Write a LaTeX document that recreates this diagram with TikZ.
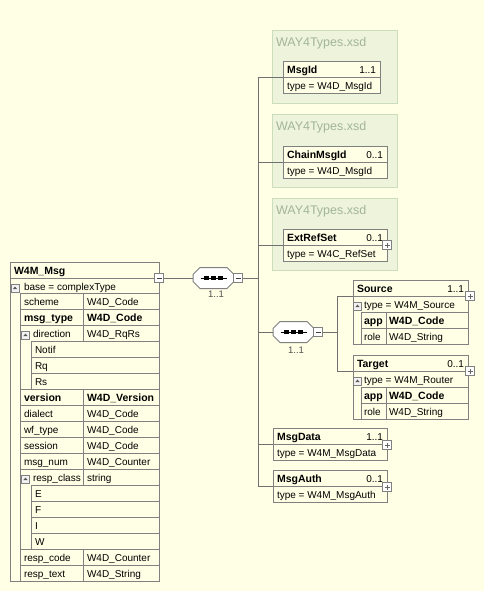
\documentclass[tikz,border=0pt]{standalone}
\usepackage{fontspec}
\setmainfont{Liberation Sans}
\definecolor{paper}{HTML}{FFFFE6}
\definecolor{rule}{HTML}{808080}
\definecolor{grpfill}{HTML}{EDF4DB}
\definecolor{grpedge}{HTML}{CCDDBB}
\definecolor{grptext}{HTML}{A3B597}
\definecolor{wirecol}{HTML}{707070}
\definecolor{cardcol}{HTML}{505050}

\begin{document}
\begin{tikzpicture}[x=1pt,y=-1pt,
  every node/.style={font=\fontsize{10}{12}\selectfont, inner sep=0pt, outer sep=0pt},
  txt/.style={anchor=base west},
  btxt/.style={anchor=base west, font=\fontsize{10.5}{12}\selectfont\bfseries},
  card/.style={anchor=base east},
  elbox/.style={draw=rule, fill=paper, anchor=north west, line width=1pt},
  groupbox/.style={draw=grpedge, fill=grpfill, anchor=north west, line width=1pt},
  grptitle/.style={anchor=base west, text=grptext, font=\fontsize{12.5}{14}\selectfont},
  cell/.style={draw=rule, line width=1pt},
  wire/.style={draw=wirecol, line width=1pt},
  minusbtn/.style={draw=rule, fill=white, line width=1pt, minimum size=9,
    path picture={\draw[black!75, line width=0.8pt]
      ([xshift=-2.5pt]path picture bounding box.center) -- ([xshift=2.5pt]path picture bounding box.center);}},
  plusbtn/.style={draw=rule, fill=white, line width=1pt, minimum size=9,
    path picture={\draw[black!60, line width=0.8pt]
      ([xshift=-2.5pt]path picture bounding box.center) -- ([xshift=2.5pt]path picture bounding box.center)
      ([yshift=-2.5pt]path picture bounding box.center) -- ([yshift=2.5pt]path picture bounding box.center);}},
  foldbtn/.style={draw=rule, fill=white!95!black, line width=0.8pt, minimum size=8,
    path picture={\fill[black!65]
      ([xshift=-2.2pt,yshift=-1.2pt]path picture bounding box.center) --
      ([xshift=2.2pt,yshift=-1.2pt]path picture bounding box.center) --
      ([yshift=1.4pt]path picture bounding box.center) -- cycle;}},
  seqbox/.style={minimum width=41, minimum height=21},
  cardlabel/.style={text=cardcol, font=\fontsize{9.5}{11}\selectfont}
]
% canvas
\fill[paper] (0,0) rectangle (484,591);
\useasboundingbox (0,0) rectangle (484,591);

% ---------- schema groups ----------
\node[groupbox, minimum width=125, minimum height=73] (grp1) at (272,31) {};
\node[groupbox, minimum width=125, minimum height=72] (grp2) at (272,115) {};
\node[groupbox, minimum width=125, minimum height=72] (grp3) at (272,198) {};
\node[grptitle] (grp1t) at (276,47) {WAY4Types.xsd};
\node[grptitle] (grp2t) at (276,131) {WAY4Types.xsd};
\node[grptitle] (grp3t) at (276,214) {WAY4Types.xsd};

% ---------- simple element boxes ----------
% MsgId
\node[elbox, minimum width=97, minimum height=32] (msgid) at (283,62) {};
\draw[cell] (283,78) -- (380,78);
\node[btxt] (msgidT) at (287,74) {MsgId};
\node[card] (msgidC) at (376,74) {1..1};
\node[txt] (msgidY) at (287,90) {type = W4D\_MsgId};
% ChainMsgId
\node[elbox, minimum width=104, minimum height=32] (chain) at (283,146) {};
\draw[cell] (283,162) -- (387,162);
\node[btxt] (chainT) at (287,158) {ChainMsgId};
\node[card] (chainC) at (383,158) {0..1};
\node[txt] (chainY) at (287,174) {type = W4D\_MsgId};
% ExtRefSet
\node[elbox, minimum width=104, minimum height=32] (extref) at (283,229) {};
\draw[cell] (283,245) -- (387,245);
\node[btxt] (extrefT) at (287,241) {ExtRefSet};
\node[card] (extrefC) at (383,241) {0..1};
\node[txt] (extrefY) at (287,257) {type = W4C\_RefSet};
\node[plusbtn] (extrefB) at (387,245) {};
% MsgData
\node[elbox, minimum width=114, minimum height=32] (msgdata) at (273,428) {};
\draw[cell] (273,444) -- (387,444);
\node[btxt] (msgdataT) at (277,440) {MsgData};
\node[card] (msgdataC) at (383,440) {1..1};
\node[txt] (msgdataY) at (277,456) {type = W4M\_MsgData};
\node[plusbtn] (msgdataB) at (387,445) {};
% MsgAuth
\node[elbox, minimum width=114, minimum height=32] (msgauth) at (273,470) {};
\draw[cell] (273,486) -- (387,486);
\node[btxt] (msgauthT) at (277,482) {MsgAuth};
\node[card] (msgauthC) at (383,482) {0..1};
\node[txt] (msgauthY) at (277,498) {type = W4M\_MsgAuth};
\node[plusbtn] (msgauthB) at (387,487) {};

% ---------- Source / Target ----------
\node[elbox, minimum width=115, minimum height=64] (source) at (353,280) {};
\draw[cell] (353,296) -- (468,296);
\node[cell, anchor=north west, minimum width=107, minimum height=32] (srcTab) at (361,312) {};
\draw[cell] (361,328) -- (468,328) (386,312) -- (386,344);
\node[btxt] (sourceT) at (357,292) {Source};
\node[card] (sourceC) at (464,292) {1..1};
\node[foldbtn] (sourceF) at (357.5,306) {};
\node[txt] (sourceY) at (364,308) {type = W4M\_Source};
\node[btxt] (srcApp) at (364,324) {app};
\node[btxt] (srcAppT) at (389,324) {W4D\_Code};
\node[txt] (srcRole) at (364,340) {role};
\node[txt] (srcRoleT) at (389,340) {W4D\_String};
\node[plusbtn] (sourceB) at (470,296) {};

\node[elbox, minimum width=115, minimum height=64] (target) at (353,355) {};
\draw[cell] (353,371) -- (468,371);
\node[cell, anchor=north west, minimum width=107, minimum height=32] (tgtTab) at (361,387) {};
\draw[cell] (361,403) -- (468,403) (386,387) -- (386,419);
\node[btxt] (targetT) at (357,367) {Target};
\node[card] (targetC) at (464,367) {0..1};
\node[foldbtn] (targetF) at (357.5,381) {};
\node[txt] (targetY) at (364,383) {type = W4M\_Router};
\node[btxt] (tgtApp) at (364,399) {app};
\node[btxt] (tgtAppT) at (389,399) {W4D\_Code};
\node[txt] (tgtRole) at (364,415) {role};
\node[txt] (tgtRoleT) at (389,415) {W4D\_String};
\node[plusbtn] (targetB) at (470,371) {};

% ---------- W4M_Msg complex type ----------
\node[elbox, minimum width=149, minimum height=319] (msg) at (10,262) {};
\draw[cell] (10,278) -- (159,278);
\node[btxt] (msgT) at (14,274) {W4M\_Msg};
\node[foldbtn] (baseF) at (15,288) {};
\node[txt] (baseY) at (24,290) {base = complexType};
\node[cell, anchor=north west, minimum width=139, minimum height=288] (attrs) at (20,293) {};
% row rules
\foreach \y in {309,325,389,405,421,437,453,469,549,565} \draw[cell] (20,\y) -- (159,\y);
\foreach \y in {341,357,373,485,501,517,533} \draw[cell] (31,\y) -- (159,\y);
\draw[cell] (31,341) -- (31,389) (31,485) -- (31,549);
\draw[cell] (83,293) -- (83,341) (83,389) -- (83,485) (83,549) -- (83,581);
% attribute names and types
\node[txt]  (aScheme)   at (24,305) {scheme};      \node[txt]  (tScheme)   at (87,305) {W4D\_Code};
\node[btxt] (aMsgType)  at (24,321) {msg\_type};   \node[btxt] (tMsgType)  at (87,321) {W4D\_Code};
\node[foldbtn] (dirF) at (25.5,335) {};
\node[txt]  (aDir)      at (33,337) {direction};   \node[txt]  (tDir)      at (87,337) {W4D\_RqRs};
\node[txt]  (eNotif)    at (35,353) {Notif};
\node[txt]  (eRq)       at (35,369) {Rq};
\node[txt]  (eRs)       at (35,385) {Rs};
\node[btxt] (aVersion)  at (24,401) {version};     \node[btxt] (tVersion)  at (87,401) {W4D\_Version};
\node[txt]  (aDialect)  at (24,417) {dialect};     \node[txt]  (tDialect)  at (87,417) {W4D\_Code};
\node[txt]  (aWf)       at (24,433) {wf\_type};    \node[txt]  (tWf)       at (87,433) {W4D\_Code};
\node[txt]  (aSession)  at (24,449) {session};     \node[txt]  (tSession)  at (87,449) {W4D\_Code};
\node[txt]  (aNum)      at (24,465) {msg\_num};    \node[txt]  (tNum)      at (87,465) {W4D\_Counter};
\node[foldbtn] (rcF) at (25.5,479) {};
\node[txt]  (aClass)    at (33,481) {resp\_class}; \node[txt]  (tClass)    at (87,481) {string};
\node[txt]  (eE)        at (35,497) {E};
\node[txt]  (eF)        at (35,513) {F};
\node[txt]  (eI)        at (35,529) {I};
\node[txt]  (eW)        at (35,545) {W};
\node[txt]  (aCode)     at (24,561) {resp\_code};  \node[txt]  (tCode)     at (87,561) {W4D\_Counter};
\node[txt]  (aText)     at (24,577) {resp\_text};  \node[txt]  (tText)     at (87,577) {W4D\_String};
\node[minusbtn] (msgB) at (159,278) {};

% ---------- sequence compositors (octagon with dotted-line symbol) ----------
\node[seqbox] (seq1) at (213.5,278) {};
\node[seqbox] (seq2) at (293.5,332) {};
\foreach \s in {seq1,seq2}{
  \filldraw[draw=rule, fill=white, line width=1pt]
    ([xshift=-20.5pt,yshift=3.5pt]\s.center) -- ([xshift=-13.5pt,yshift=10.5pt]\s.center) --
    ([xshift=13.5pt,yshift=10.5pt]\s.center) -- ([xshift=20.5pt,yshift=3.5pt]\s.center) --
    ([xshift=20.5pt,yshift=-3.5pt]\s.center) -- ([xshift=13.5pt,yshift=-10.5pt]\s.center) --
    ([xshift=-13.5pt,yshift=-10.5pt]\s.center) -- ([xshift=-20.5pt,yshift=-3.5pt]\s.center) -- cycle;
  \draw[black, line width=1pt] ([xshift=-13pt]\s.center) -- ([xshift=13pt]\s.center);
  \foreach \dx in {-7,0,7}
    \fill[black] ([xshift=\dx pt-2.5pt, yshift=-1.8pt]\s.center) rectangle ([xshift=\dx pt+2.5pt, yshift=1.8pt]\s.center);
}
\node[minusbtn] (seq1B) at (238,278) {};
\node[cardlabel] (seq1L) at (216,294) {1..1};
\node[minusbtn] (seq2B) at (318,332) {};
\node[cardlabel] (seq2L) at (296,350) {1..1};

% ---------- connectors ----------
\coordinate (bus) at (258,0);
\coordinate (bus2) at (337,0);
\coordinate (srcPort) at (353,296);
\coordinate (tgtPort) at (353,371);
\draw[wire] (msgB.east) -- (seq1.west);
\draw[wire] (seq1B.east) -- (seq1B.east -| bus);
\draw[wire] (msgid.west -| bus) -- (msgauth.west -| bus);
\draw[wire] (msgid.west -| bus) -- (msgid.west);
\draw[wire] (chain.west -| bus) -- (chain.west);
\draw[wire] (extref.west -| bus) -- (extref.west);
\draw[wire] (seq2.west -| bus) -- (seq2.west);
\draw[wire] (msgdata.west -| bus) -- (msgdata.west);
\draw[wire] (msgauth.west -| bus) -- (msgauth.west);
\draw[wire] (seq2B.east) -- (seq2B.east -| bus2);
\draw[wire] (srcPort -| bus2) -- (tgtPort -| bus2);
\draw[wire] (srcPort -| bus2) -- (srcPort);
\draw[wire] (tgtPort -| bus2) -- (tgtPort);
\end{tikzpicture}
\end{document}
